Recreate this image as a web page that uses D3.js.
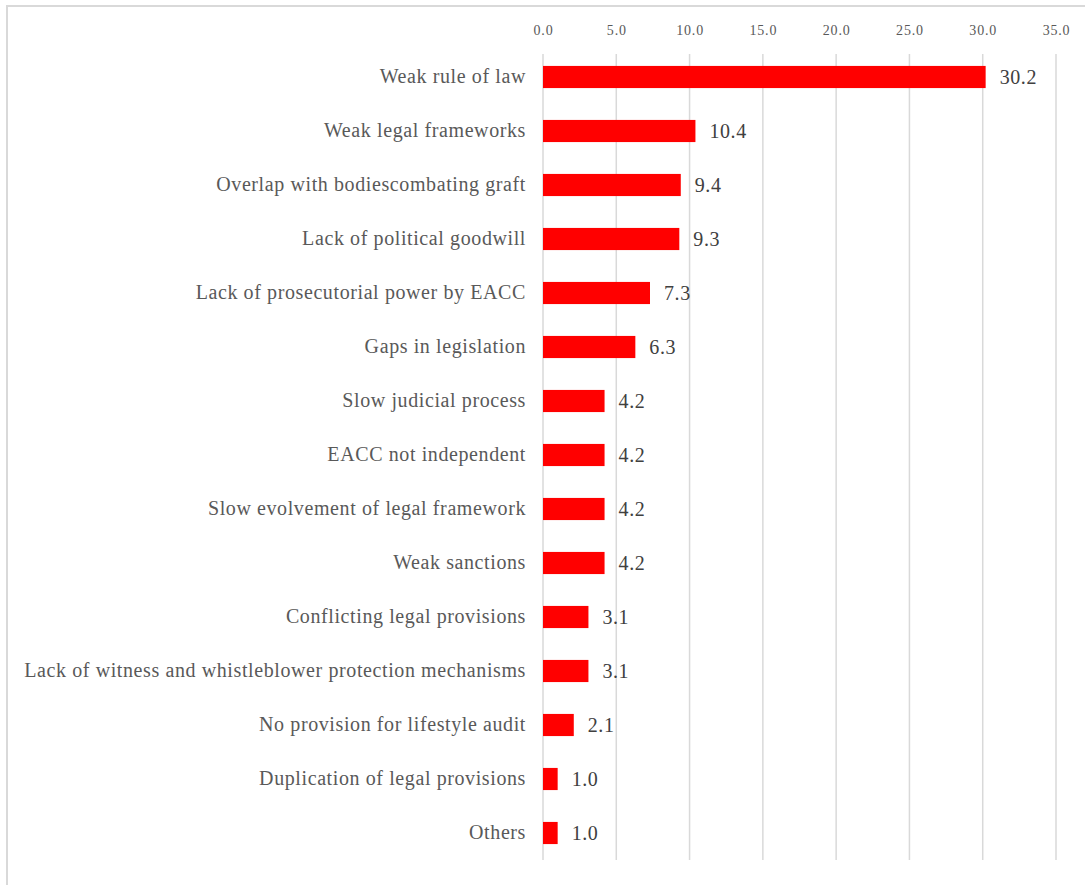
<!DOCTYPE html>
<html><head><meta charset="utf-8">
<script src="https://cdn.jsdelivr.net/npm/d3@7"></script>
<style>body{margin:0;background:#fff;} svg{display:block;}</style>
</head><body>
<svg id="c" width="1085" height="885"></svg>
<script>
const categories = [
  "Weak rule of law",
  "Weak legal frameworks",
  "Overlap with bodiescombating graft",
  "Lack of political goodwill",
  "Lack of prosecutorial power by EACC",
  "Gaps in legislation",
  "Slow judicial process",
  "EACC not independent",
  "Slow evolvement of legal framework",
  "Weak sanctions",
  "Conflicting legal provisions",
  "Lack of witness and whistleblower protection mechanisms",
  "No provision for lifestyle audit",
  "Duplication of legal provisions",
  "Others"
];
const values = [30.2, 10.4, 9.4, 9.3, 7.3, 6.3, 4.2, 4.2, 4.2, 4.2, 3.1, 3.1, 2.1, 1.0, 1.0];
const tickValues = [0, 5, 10, 15, 20, 25, 30, 35];

const svg = d3.select("#c");
const font = "'Liberation Serif','Times New Roman',serif";

// outer border (chart area frame)
svg.append("rect").attr("x", 7).attr("y", 6).attr("width", 1200).attr("height", 1000)
  .attr("fill", "none").attr("stroke", "#d9d9d9").attr("stroke-width", 2);

const x = d3.scaleLinear().domain([0, 35]).range([543, 1056]);
const y = d3.scaleBand().domain(categories).range([50, 860]).paddingInner(0.59).paddingOuter(0.295);

// gridlines
svg.append("g").selectAll("line").data(tickValues).join("line")
  .attr("x1", d => x(d)).attr("x2", d => x(d))
  .attr("y1", 54).attr("y2", 860)
  .attr("stroke", "#d9d9d9").attr("stroke-width", 1.5);

// top axis tick labels
const ax = svg.append("g").attr("transform", "translate(0,35)")
  .call(d3.axisTop(x).tickValues(tickValues).tickFormat(d3.format(".1f")).tickSize(0).tickPadding(0));
ax.select(".domain").remove();
ax.selectAll("text").attr("font-family", font).attr("font-size", 14)
  .attr("letter-spacing", 0.8).attr("fill", "#595959");

// bars
svg.append("g").selectAll("rect").data(values).join("rect")
  .attr("x", x(0))
  .attr("y", (d, i) => y(categories[i]))
  .attr("width", d => x(d) - x(0))
  .attr("height", y.bandwidth())
  .attr("fill", "#ff0000");

// value labels
svg.append("g").selectAll("text").data(values).join("text")
  .attr("x", d => x(d) + 14)
  .attr("y", (d, i) => y(categories[i]) + y.bandwidth() / 2)
  .attr("dy", "0.35em")
  .attr("font-family", font).attr("font-size", 20).attr("letter-spacing", 0.6).attr("fill", "#404040")
  .text(d => d.toFixed(1));

// category labels
svg.append("g").selectAll("text").data(categories).join("text")
  .attr("x", 526)
  .attr("y", d => y(d) + y.bandwidth() / 2)
  .attr("dy", "0.3em")
  .attr("text-anchor", "end")
  .attr("font-family", font).attr("font-size", 20).attr("letter-spacing", 0.6).attr("fill", "#595959")
  .text(d => d);
</script>
</body></html>
